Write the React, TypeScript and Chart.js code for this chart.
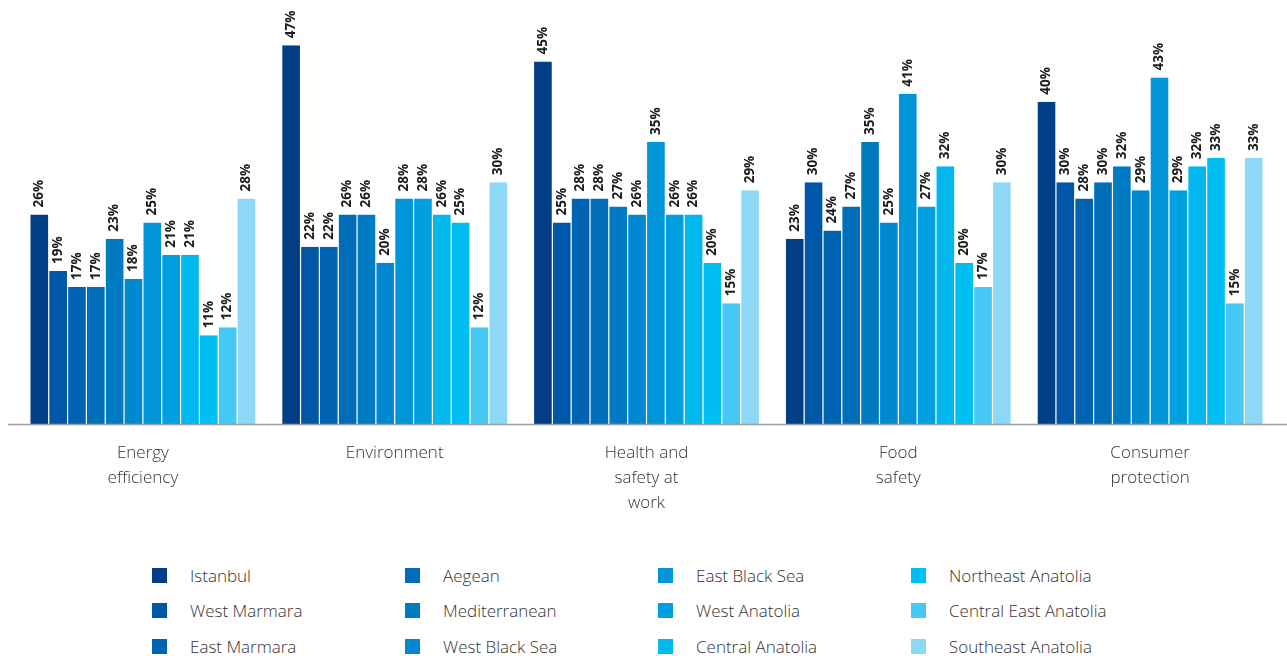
import React, { useEffect, useRef } from "react";
import { Chart, registerables } from "chart.js";

Chart.register(...registerables);

// Topic categories along the x axis (multi-line labels)
const categories: string[][] = [
  ["Energy", "efficiency"],
  ["Environment"],
  ["Health and", "safety at", "work"],
  ["Food", "safety"],
  ["Consumer", "protection"],
];

// Regions, in series order
const regions = [
  "Istanbul",
  "West Marmara",
  "East Marmara",
  "Aegean",
  "Mediterranean",
  "West Black Sea",
  "East Black Sea",
  "West Anatolia",
  "Central Anatolia",
  "Northeast Anatolia",
  "Central East Anatolia",
  "Southeast Anatolia",
];

const regionColors = [
  "#023e85",
  "#0057a7",
  "#0064b2",
  "#006db8",
  "#007bc3",
  "#0088d0",
  "#0094d9",
  "#009fe0",
  "#00b7ee",
  "#00bdf2",
  "#45c8f4",
  "#8ed8f7",
];

// Share (%) per region, one array per category
const energyEfficiency = [26, 19, 17, 17, 23, 18, 25, 21, 21, 11, 12, 28];
const environment = [47, 22, 22, 26, 26, 20, 28, 28, 26, 25, 12, 30];
const healthSafety = [45, 25, 28, 28, 27, 26, 35, 26, 26, 20, 15, 29];
const foodSafety = [23, 30, 24, 27, 35, 25, 41, 27, 32, 20, 17, 30];
const consumerProtection = [40, 30, 28, 30, 32, 29, 43, 29, 32, 33, 15, 33];

const byCategory = [energyEfficiency, environment, healthSafety, foodSafety, consumerProtection];

const FONT = "'Open Sans', 'Noto Sans', sans-serif";

const valueLabels = {
  id: "valueLabels",
  afterDatasetsDraw(chart: any) {
    const ctx = chart.ctx;
    ctx.save();
    ctx.font = `bold 13.5px ${FONT}`;
    ctx.fillStyle = "#1a1a1a";
    ctx.textAlign = "left";
    ctx.textBaseline = "middle";
    chart.data.datasets.forEach((ds: any, di: number) => {
      const meta = chart.getDatasetMeta(di);
      meta.data.forEach((bar: any, i: number) => {
        const v = ds.data[i];
        ctx.save();
        ctx.translate(bar.x, bar.y - 7);
        ctx.rotate(-Math.PI / 2);
        ctx.fillText(`${v}%`, 0, 0);
        ctx.restore();
      });
    });
    ctx.restore();
  },
};

const baseline = {
  id: "baseline",
  afterDatasetsDraw(chart: any) {
    const { ctx, chartArea } = chart;
    ctx.save();
    ctx.strokeStyle = "#9a9a9a";
    ctx.lineWidth = 1.5;
    ctx.beginPath();
    ctx.moveTo(8, chartArea.bottom + 0.5);
    ctx.lineTo(chart.width, chartArea.bottom + 0.5);
    ctx.stroke();
    ctx.restore();
  },
};

// Legend laid out column by column, three rows per column
function Legend() {
  const rows = 3;
  return (
    <>
      {regions.map((name, idx) => {
        const col = Math.floor(idx / rows);
        const row = idx % rows;
        return (
          <div
            key={name}
            style={{
              position: "absolute",
              left: 152 + col * 253,
              top: 564 + row * 35.5,
              display: "flex",
              alignItems: "center",
              height: 22,
            }}
          >
            <span
              style={{
                display: "inline-block",
                width: 15,
                height: 15,
                background: regionColors[idx],
                marginRight: 23,
              }}
            />
            <span
              style={{
                fontFamily: FONT,
                fontSize: 17,
                fontWeight: 300,
                color: "#333333",
                whiteSpace: "nowrap",
              }}
            >
              {name}
            </span>
          </div>
        );
      })}
    </>
  );
}

export default function App() {
  const canvasRef = useRef<HTMLCanvasElement | null>(null);

  useEffect(() => {
    if (!canvasRef.current) return;
    const datasets = regions.map((name, r) => ({
      label: name,
      data: byCategory.map((cat) => cat[r]),
      backgroundColor: regionColors[r],
      borderColor: "#ffffff",
      borderWidth: { top: 0, bottom: 0, left: 0.6, right: 0.6 },
      borderSkipped: false as const,
      barPercentage: 1,
      categoryPercentage: 0.8975,
    }));
    const chart = new Chart(canvasRef.current, {
      type: "bar",
      data: { labels: categories, datasets },
      options: {
        animation: false,
        responsive: true,
        maintainAspectRatio: false,
        layout: { padding: { left: 17, right: 11, top: 5, bottom: 0 } },
        plugins: {
          legend: { display: false },
          tooltip: { enabled: false },
        },
        scales: {
          x: {
            grid: { display: false, drawTicks: false },
            border: { display: false },
            ticks: {
              color: "#333333",
              font: { family: FONT, size: 17, weight: 300, lineHeight: 1.47 },
              padding: 17,
              maxRotation: 0,
              autoSkip: false,
            },
            afterFit(scale: any) {
              scale.height = 106;
            },
          },
          y: {
            display: false,
            min: 0,
            max: 52,
          },
        },
      },
      plugins: [valueLabels, baseline],
    });
    return () => chart.destroy();
  }, []);

  return (
    <div style={{ position: "absolute", left: 0, top: 0, width: 1287, height: 656, background: "#fff" }}>
      <div style={{ position: "absolute", left: 0, top: 0, width: 1287, height: 530 }}>
        <canvas ref={canvasRef} />
      </div>
      <Legend />
    </div>
  );
}
